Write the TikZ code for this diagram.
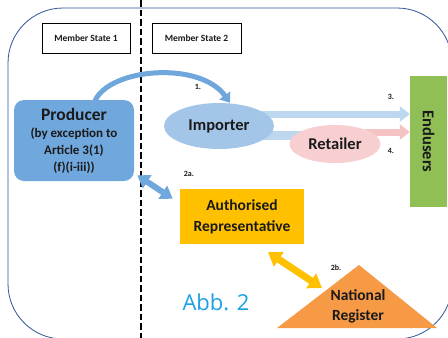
\documentclass[tikz,border=0pt]{standalone}
\usepackage{fontspec}
\setmainfont{Carlito}
\newfontfamily\abbfont{Open Sans}
\usetikzlibrary{arrows.meta,shapes.geometric,calc,backgrounds}
\definecolor{frameblue}{HTML}{2F5597}
\definecolor{prodblue}{HTML}{70A8DE}
\definecolor{impblue}{HTML}{A3C6E8}
\definecolor{arrblue}{HTML}{BDD7EE}
\definecolor{curveblue}{HTML}{6FA6DB}
\definecolor{retpink}{HTML}{F7CFD0}
\definecolor{arrpink}{HTML}{F5C3C4}
\definecolor{eugreen}{HTML}{8FBF55}
\definecolor{repyellow}{HTML}{FFC000}
\definecolor{regorange}{HTML}{F79A46}
\definecolor{abbblue}{HTML}{1BA1E2}
\definecolor{txt}{HTML}{1A1A1A}
\begin{document}
\begin{tikzpicture}[x=1pt,y=-1pt,
  msbox/.style={draw=black,line width=0.9pt,minimum width=#1,minimum height=30pt,inner sep=0pt,font=\bfseries\fontsize{9.5}{11}\selectfont,text=txt},
  lbl/.style={font=\bfseries\fontsize{8}{9}\selectfont,text=txt,inner sep=0pt},
  bigtxt/.style={font=\bfseries\fontsize{16.5}{20}\selectfont,text=txt,align=center,inner sep=0pt},
]
\useasboundingbox (0,0) rectangle (448,338);

% nodes
\node[msbox=88pt] (ms1) at (86,38) {Member State 1};
\node[msbox=89pt] (ms2) at (196.5,38) {Member State 2};

\node[fill=prodblue,rounded corners=10pt,minimum width=120pt,minimum height=81pt,inner sep=0pt,
      align=center,text=txt,font=\bfseries\fontsize{13}{17}\selectfont] (prod) at (74,140.5)
  {{\fontsize{17.5}{19}\selectfont Producer}\\(by exception to\\Article 3(1)\\(f)(i-iii))};

\node[ellipse,fill=impblue,minimum width=110pt,minimum height=46pt,inner sep=0pt,bigtxt] (imp) at (219,126) {Importer};
\node[ellipse,fill=retpink,minimum width=91pt,minimum height=38pt,inner sep=0pt,bigtxt] (ret) at (335,144) {Retailer};

\node[fill=eugreen,minimum width=37pt,minimum height=131pt,inner sep=0pt] (eu) at (428.5,141.5) {};
\node[rotate=-90,bigtxt] (eutxt) at (eu.center) {Endusers};

\node[fill=repyellow,minimum width=124pt,minimum height=55pt,inner sep=0pt,bigtxt,
      font=\bfseries\fontsize{15.5}{21}\selectfont] (rep) at (242,216.5) {Authorised\\Representative};

\coordinate (tA) at (359,265);
\coordinate (tB) at (277,328);
\coordinate (tC) at (437,328);
\node[bigtxt,font=\bfseries\fontsize{15.5}{20}\selectfont] (reg) at (358,306.5) {National\\Register};

\node[font=\abbfont\fontsize{22}{24}\selectfont,text=abbblue,inner sep=0pt] (abb) at (216,302) {Abb. 2};

\node[lbl] (l1) at (198,87) {1.};
\node[lbl] (l3) at (391,97) {3.};
\node[lbl] (l4) at (391,151) {4.};
\node[lbl] (l2a) at (189,174) {2a.};
\node[lbl] (l2b) at (336,268) {2b.};

\begin{pgfonlayer}{background}
  \fill[white] (0,0) rectangle (448,338);
  \draw[frameblue,line width=0.8pt,rounded corners=55pt] (8,8) rectangle (452,339);
  \draw[black,line width=2.3pt,dash pattern=on 6.5pt off 3pt] (141,0) -- (141,338);
  \fill[regorange] (tA) -- (tB) -- (tC) -- cycle;
  % arrow 1 (curved)
  \draw[curveblue,line width=5pt,-{Triangle[width=13pt,length=9pt]}]
    ($(prod.north)+(21,1)$) .. controls ($(prod.north)+(36,-32)$) and ($(imp.north)+(-19,-42)$) .. ($(imp.north)+(11,0)$);
  % arrow 3
  \draw[arrblue,line width=7pt,-{Triangle[width=15pt,length=10pt]}]
    ($(imp.center)+(40,-12)$) -- ($(eu.west)+(0,-27.5)$);
  % band importer -> retailer
  \draw[arrblue,line width=9pt] ($(imp.center)+(40,9)$) -- ($(ret.center)+(-25,-9)$);
  % arrow 4
  \draw[arrpink,line width=7pt,-{Triangle[width=15pt,length=10pt]}]
    ($(ret.center)+(30,-12)$) -- ($(eu.west)+(0,-9.5)$);
  % arrow 2a
  \draw[prodblue,line width=6pt,{Triangle[width=15pt,length=12pt]}-{Triangle[width=15pt,length=12pt]}]
    ($(prod.south east)+(3,-6)$) -- ($(rep.north west)+(-7,10)$);
  % arrow 2b
  \draw[repyellow,line width=7pt,{Triangle[width=17pt,length=13pt]}-{Triangle[width=17pt,length=13pt]}]
    ($(rep.south)+(26,8)$) -- ($(tA)+(-37,23)$);
\end{pgfonlayer}
\end{tikzpicture}
\end{document}
